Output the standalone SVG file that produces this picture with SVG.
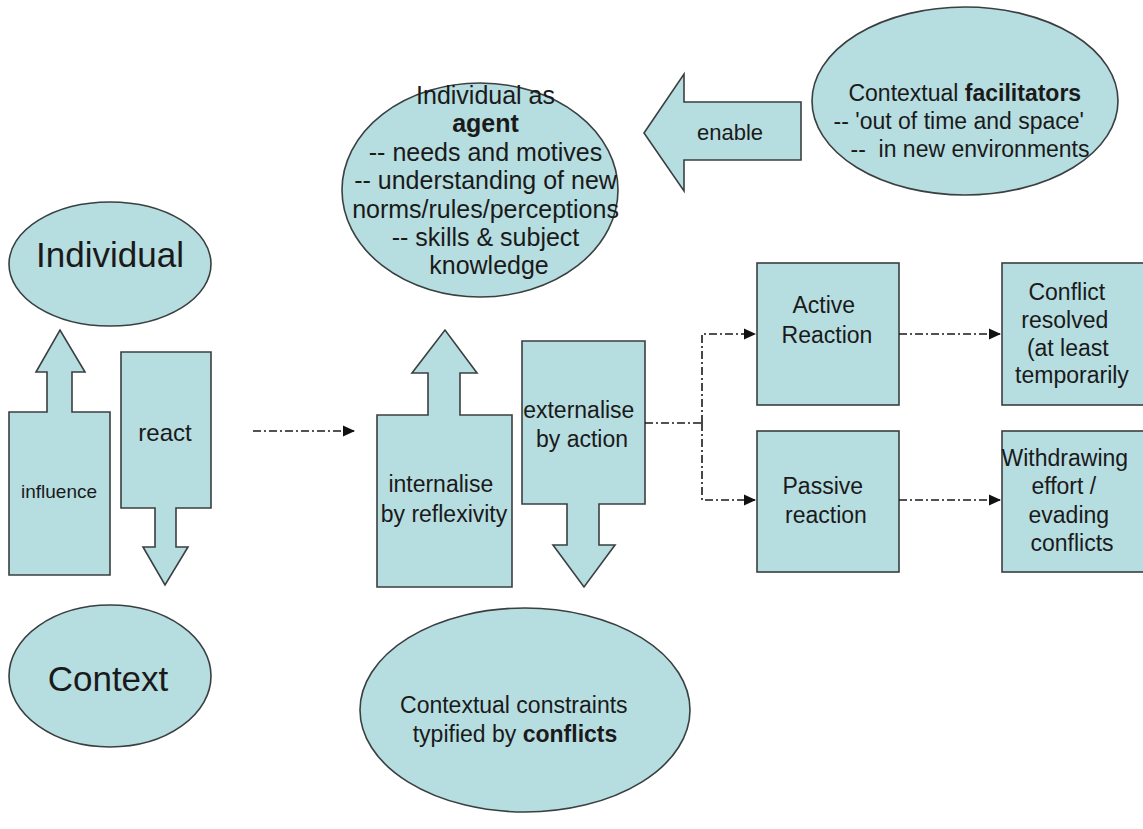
<svg xmlns="http://www.w3.org/2000/svg" width="1143" height="829" viewBox="0 0 1143 829">
  <defs>
    <style>
      .shape { fill: #b6dde0; stroke: #3a3f40; stroke-width: 1.6; }
      .t { font-family: "Liberation Sans", Arial, sans-serif; fill: #1a1a1a; text-anchor: middle; }
      .big { font-size: 35px; }
      .m { font-size: 23px; }
      .b { font-weight: bold; }
      .link { fill: none; stroke: #1a1a1a; stroke-width: 1.6; stroke-dasharray: 8 3 2 3; }
    </style>
    <marker id="head" markerUnits="userSpaceOnUse" markerWidth="12" markerHeight="12" refX="11" refY="6" orient="auto">
      <path d="M0,0.5 L12,6 L0,11.5 z" fill="#111"/>
    </marker>
  </defs>

  <rect width="1143" height="829" fill="#ffffff"/>

  <!-- left pair: Individual / Context -->
  <g id="individual">
    <ellipse class="shape" cx="110" cy="264" rx="101" ry="62"/>
    <text class="t big" x="110" y="267">Individual</text>
  </g>
  <g id="influence">
    <polygon class="shape" points="9,412 47,412 47,372 36,372 60,330 85,372 72,372 72,412 110,412 110,575 9,575"/>
    <text class="t" x="59" y="498" font-size="19">influence</text>
  </g>
  <g id="react">
    <polygon class="shape" points="121,352 211,352 211,508 176,508 176,547 188,547 165,585 143,547 155,547 155,508 121,508"/>
    <text class="t" x="165" y="441" font-size="24">react</text>
  </g>
  <g id="context">
    <ellipse class="shape" cx="110" cy="676" rx="101" ry="71"/>
    <text class="t big" x="108" y="691">Context</text>
  </g>

  <!-- agent and its context -->
  <g id="agent">
    <ellipse class="shape" cx="480" cy="190" rx="138" ry="107"/>
    <text class="t" font-size="25">
      <tspan x="489" y="104">Individual as</tspan>
      <tspan x="489" y="132" class="b">agent</tspan>
      <tspan x="489" y="161">-- needs and motives</tspan>
      <tspan x="489" y="189">-- understanding of new</tspan>
      <tspan x="489" y="218">norms/rules/perceptions</tspan>
      <tspan x="489" y="246">-- skills &amp; subject</tspan>
      <tspan x="489" y="274">knowledge</tspan>
    </text>
  </g>
  <g id="enable">
    <polygon class="shape" points="644,133 684,74 684,102 801,102 801,160 684,160 684,191"/>
    <text class="t" x="730" y="140" font-size="22">enable</text>
  </g>
  <g id="facilitators">
    <ellipse class="shape" cx="965" cy="101" rx="153" ry="94"/>
    <text class="t m">
      <tspan x="968" y="101">Contextual <tspan class="b">facilitators</tspan></tspan>
      <tspan x="962" y="129">-- 'out of time and space'</tspan>
      <tspan x="970" y="157">--&#160; in new environments</tspan>
    </text>
  </g>
  <g id="internalise">
    <polygon class="shape" points="377,415 428,415 428,373 412,373 445,330 477,373 460,373 460,415 512,415 512,587 377,587"/>
    <text class="t m">
      <tspan x="444" y="492">internalise</tspan>
      <tspan x="444" y="522">by reflexivity</tspan>
    </text>
  </g>
  <g id="externalise">
    <polygon class="shape" points="522,341 645,341 645,504 599,504 599,545 615,545 584,587 553,545 567,545 567,504 522,504"/>
    <text class="t m">
      <tspan x="582" y="418">externalise</tspan>
      <tspan x="582" y="447">by action</tspan>
    </text>
  </g>
  <g id="constraints">
    <ellipse class="shape" cx="525" cy="710" rx="165" ry="102"/>
    <text class="t m">
      <tspan x="517" y="713">Contextual constraints</tspan>
      <tspan x="515" y="742">typified by <tspan class="b">conflicts</tspan></tspan>
    </text>
  </g>

  <!-- reactions and outcomes -->
  <g id="active">
    <rect class="shape" x="757" y="263" width="142" height="142"/>
    <text class="t m">
      <tspan x="827" y="313">Active</tspan>
      <tspan x="827" y="343">Reaction</tspan>
    </text>
  </g>
  <g id="passive">
    <rect class="shape" x="757" y="431" width="142" height="141"/>
    <text class="t m">
      <tspan x="826" y="494">Passive</tspan>
      <tspan x="826" y="523">reaction</tspan>
    </text>
  </g>
  <g id="resolved">
    <rect class="shape" x="1002" y="263" width="145" height="142"/>
    <text class="t m">
      <tspan x="1070" y="300">Conflict</tspan>
      <tspan x="1068" y="328">resolved</tspan>
      <tspan x="1071" y="356">(at least</tspan>
      <tspan x="1072" y="383">temporarily</tspan>
    </text>
  </g>
  <g id="withdrawing">
    <rect class="shape" x="1002" y="431" width="145" height="141"/>
    <text class="t m">
      <tspan x="1068" y="466">Withdrawing</tspan>
      <tspan x="1067" y="494">effort /</tspan>
      <tspan x="1072" y="523">evading</tspan>
      <tspan x="1072" y="551">conflicts</tspan>
    </text>
  </g>

  <!-- connectors -->
  <g id="connectors">
    <path class="link" d="M253,431 H354" marker-end="url(#head)"/>
    <path class="link" d="M645,423 H702"/>
    <path class="link" d="M702,423 V334 H755" marker-end="url(#head)"/>
    <path class="link" d="M702,423 V500 H755" marker-end="url(#head)"/>
    <path class="link" d="M899,334 H1000" marker-end="url(#head)"/>
    <path class="link" d="M899,500 H1000" marker-end="url(#head)"/>
  </g>
</svg>
